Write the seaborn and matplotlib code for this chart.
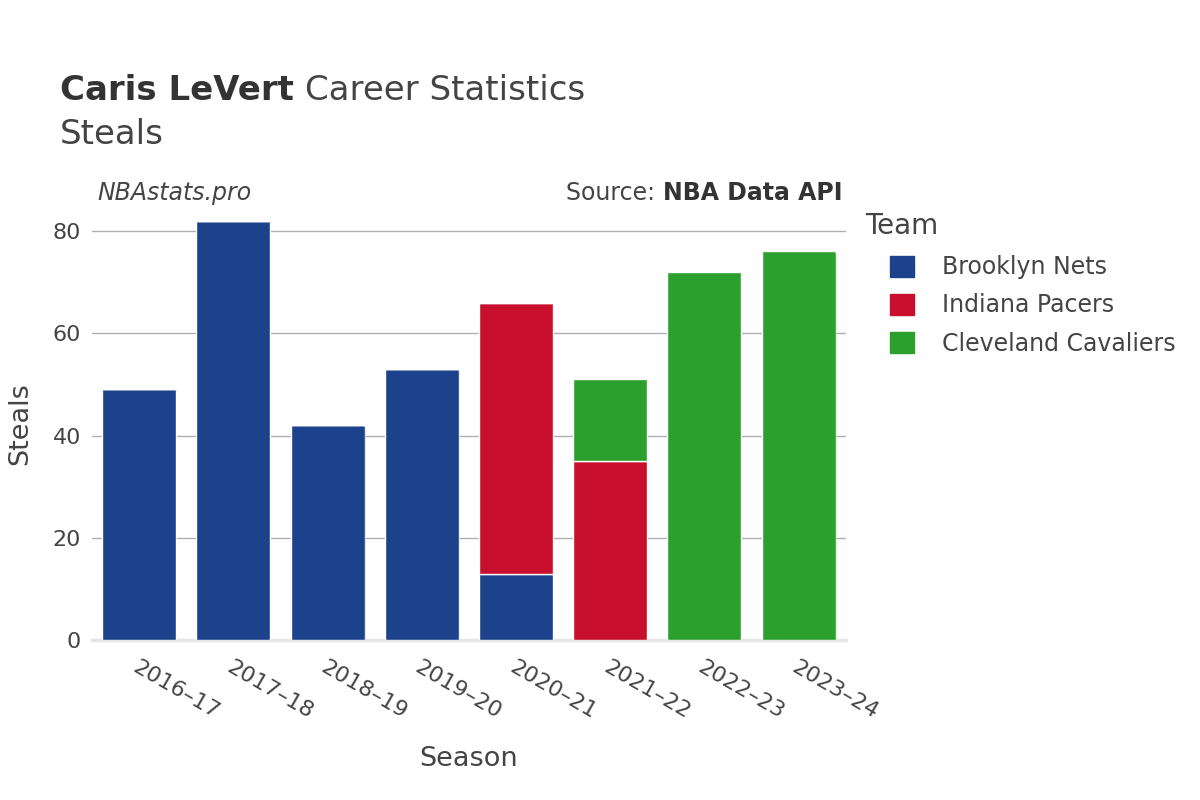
#!/usr/bin/env python3

import pandas as pd
import matplotlib.pyplot as plt
import seaborn as sns
from matplotlib.patches import Patch, FancyBboxPatch
from matplotlib.transforms import IdentityTransform

# --- Data ---
seasons = ["2016–17", "2017–18", "2018–19", "2019–20",
           "2020–21", "2021–22", "2022–23", "2023–24"]
teams = ["Brooklyn Nets", "Indiana Pacers", "Cleveland Cavaliers"]
team_colors = ["#1b428a", "#c8102e", "#2ca02c"]
nets_steals = [49, 82, 42, 53, 13, 0, 0, 0]
pacers_steals = [0, 0, 0, 0, 53, 35, 0, 0]
cavs_steals = [0, 0, 0, 0, 0, 16, 72, 76]

df = pd.DataFrame({
    "Season": seasons,
    teams[0]: nets_steals,
    teams[1]: pacers_steals,
    teams[2]: cavs_steals,
})

text_color = "#444444"
dark_color = "#333333"

# --- Style ---
sns.set_theme(style="white")
plt.rcParams["font.family"] = ["DejaVu Sans"]

fig = plt.figure(figsize=(12, 8), dpi=100)
ax = fig.add_axes([0.0767, 0.2, 0.628, 0.54])

# --- Stacked bars ---
bottom = [0] * len(seasons)
for team, color in zip(teams, team_colors):
    sns.barplot(
        data=df,
        x="Season",
        y=team,
        order=seasons,
        color=color,
        bottom=bottom,
        width=0.785,
        edgecolor="white",
        linewidth=1,
        saturation=1,
        ax=ax,
        zorder=3,
    )
    bottom = [b + v for b, v in zip(bottom, df[team])]

# --- Axes ---
ax.set_ylim(0, 84.5)
ax.set_xlim(-0.5, len(seasons) - 0.5)
ax.set_yticks([0, 20, 40, 60, 80])
ax.yaxis.grid(True, color="#b0b0b0", linewidth=1, zorder=0)
ax.set_axisbelow(True)
for side in ["top", "right", "left"]:
    ax.spines[side].set_visible(False)
ax.spines["bottom"].set_color("#e5e5e5")
ax.spines["bottom"].set_linewidth(2.5)
ax.tick_params(axis="both", length=0, labelsize=16, colors=text_color)
ax.tick_params(axis="x", pad=12)
ax.tick_params(axis="y", pad=8)
plt.setp(ax.get_xticklabels(), rotation=-30, ha="left", rotation_mode="anchor")
ax.set_xlabel("Season", fontsize=19.5, color=text_color, labelpad=17)
ax.set_ylabel("Steals", fontsize=19.5, color=text_color, labelpad=14)

# --- Round the top corners of each stack ---
n = len(seasons)
patches = list(ax.patches)
radius = 6
for i in range(n):
    top = None
    for t in range(len(teams)):
        p = patches[t * n + i]
        if p.get_height() > 0:
            top = p
    if top is None:
        continue
    x0, y0 = ax.transData.transform((top.get_x(), top.get_y()))
    x1, y1 = ax.transData.transform((top.get_x() + top.get_width(),
                                     top.get_y() + top.get_height()))
    clip = FancyBboxPatch(
        (x0 - 1, y0 - 2 * radius), (x1 - x0) + 2, (y1 - y0) + 2 * radius + 1,
        boxstyle=f"round,pad=0,rounding_size={radius}",
        transform=IdentityTransform(),
    )
    top.set_clip_path(clip)

# --- Titles ---
renderer = fig.canvas.get_renderer()
t1 = fig.text(0.05, 0.875, "Caris LeVert", fontsize=24.5, fontweight="bold",
              color=dark_color, ha="left", va="baseline")
bb = t1.get_window_extent(renderer)
fig.text(bb.x1 / 1200 + 0.009, 0.875, "Career Statistics", fontsize=24.5,
         color=text_color, ha="left", va="baseline")
fig.text(0.05, 0.82, "Steals", fontsize=24.5, color=text_color,
         ha="left", va="baseline")
fig.text(0.081, 0.75, "NBAstats.pro", fontsize=17, style="italic",
         color=text_color, ha="left", va="baseline")
t2 = fig.text(0.702, 0.75, "NBA Data API", fontsize=17, fontweight="bold",
              color=dark_color, ha="right", va="baseline")
bb2 = t2.get_window_extent(renderer)
fig.text(bb2.x0 / 1200, 0.75, "Source: ", fontsize=17, color=text_color,
         ha="right", va="baseline")

# --- Legend ---
fig.text(0.721, 0.707, "Team", fontsize=20, color=text_color,
         ha="left", va="baseline")
handles = [Patch(facecolor=c, edgecolor=c) for c in team_colors]
leg = fig.legend(
    handles,
    teams,
    loc="upper left",
    bbox_to_anchor=(0.742, 0.681),
    frameon=False,
    fontsize=17,
    handlelength=1.0,
    handleheight=1.0,
    handletextpad=1.2,
    labelspacing=0.6,
    borderpad=0,
    borderaxespad=0,
)
for t in leg.get_texts():
    t.set_color(text_color)

plt.savefig("out.png", dpi=100)
